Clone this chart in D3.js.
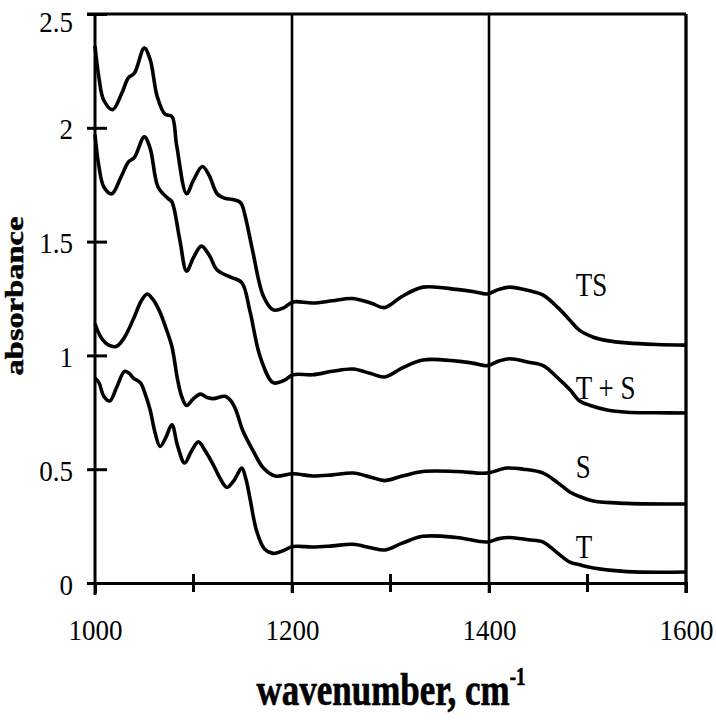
<!DOCTYPE html>
<html>
<head>
<meta charset="utf-8">
<script src="https://cdn.jsdelivr.net/npm/d3@7"></script>
<style>
  body { margin: 0; background: #fff; }
  svg text { font-family: "Liberation Serif", "Times New Roman", serif; fill: #000; }
</style>
</head>
<body>
<script>
// spectra: [wavenumber, absorbance]
var tsData = [[1000,2.36],[1004,2.22],[1009,2.12],[1018,2.08],[1027,2.15],[1034,2.22],[1040,2.24],[1050,2.35],[1056,2.30],[1063,2.14],[1071,2.06],[1078,2.05],[1083,1.92],[1093,1.71],[1100,1.77],[1109,1.83],[1116,1.79],[1124,1.71],[1132,1.69],[1140,1.685],[1148,1.67],[1152,1.62],[1160,1.46],[1171,1.26],[1181,1.20],[1192,1.21],[1201,1.235],[1221,1.23],[1241,1.24],[1261,1.25],[1280,1.23],[1294,1.21],[1312,1.26],[1333,1.30],[1367,1.29],[1385,1.28],[1398,1.27],[1410,1.29],[1421,1.30],[1440,1.285],[1455,1.265],[1470,1.21],[1482,1.155],[1492,1.11],[1506,1.08],[1520,1.065],[1540,1.055],[1570,1.048],[1600,1.045]];
var tPlusSData = [[1000,1.97],[1004,1.83],[1009,1.74],[1017,1.71],[1026,1.78],[1034,1.85],[1040,1.87],[1050,1.96],[1056,1.91],[1064,1.74],[1074,1.69],[1078,1.675],[1086,1.51],[1093,1.37],[1100,1.43],[1108,1.48],[1116,1.44],[1124,1.375],[1137,1.345],[1149,1.32],[1157,1.20],[1168,0.99],[1181,0.88],[1192,0.89],[1201,0.915],[1221,0.915],[1241,0.93],[1262,0.94],[1280,0.92],[1294,0.905],[1312,0.945],[1333,0.98],[1367,0.975],[1385,0.965],[1398,0.955],[1410,0.975],[1421,0.985],[1440,0.97],[1455,0.955],[1470,0.90],[1482,0.85],[1492,0.80],[1503,0.78],[1520,0.76],[1540,0.75],[1570,0.748],[1600,0.747]];
var sData = [[1000,1.14],[1006,1.08],[1014,1.045],[1022,1.04],[1030,1.08],[1040,1.17],[1047,1.24],[1053,1.27],[1059,1.245],[1066,1.19],[1072,1.12],[1078,1.04],[1084,0.89],[1088,0.82],[1093,0.78],[1100,0.81],[1107,0.83],[1114,0.815],[1120,0.81],[1132,0.82],[1138,0.80],[1143,0.76],[1150,0.67],[1160,0.585],[1171,0.505],[1183,0.47],[1201,0.48],[1221,0.47],[1241,0.475],[1262,0.483],[1280,0.465],[1294,0.45],[1312,0.47],[1333,0.49],[1367,0.49],[1398,0.483],[1418,0.505],[1435,0.50],[1455,0.483],[1470,0.44],[1482,0.40],[1492,0.38],[1506,0.36],[1540,0.35],[1600,0.347]];
var tData = [[1000,0.90],[1004,0.88],[1009,0.82],[1015,0.80],[1022,0.86],[1030,0.93],[1035,0.92],[1039,0.90],[1046,0.88],[1051,0.83],[1056,0.76],[1061,0.66],[1066,0.60],[1072,0.64],[1078,0.695],[1084,0.60],[1091,0.527],[1098,0.58],[1105,0.62],[1112,0.58],[1120,0.52],[1127,0.46],[1134,0.42],[1141,0.45],[1149,0.505],[1153,0.46],[1157,0.38],[1164,0.23],[1172,0.15],[1181,0.13],[1190,0.14],[1201,0.16],[1221,0.158],[1241,0.163],[1262,0.17],[1280,0.155],[1294,0.145],[1312,0.175],[1333,0.205],[1367,0.20],[1398,0.18],[1410,0.195],[1421,0.20],[1440,0.19],[1455,0.18],[1470,0.13],[1482,0.092],[1492,0.08],[1506,0.066],[1540,0.05],[1600,0.048]];

var seriesNames = ["TS", "T + S", "S", "T"];
var seriesData = [tsData, tPlusSData, sData, tData];
// label anchor: wavenumber / absorbance where each name sits
var labelPos = [[1488, 1.26], [1488, 0.81], [1488, 0.46], [1488, 0.11]];

var xTicks = [1000, 1200, 1400, 1600];
var xMinor = [1100, 1300, 1500];
var yTicks = [0, 0.5, 1, 1.5, 2, 2.5];

var width = 716;
var height = 720;
var pLeft = 95, pRight = 686, pTop = 14, pBottom = 583;

var svg = d3.select("body").append("svg")
  .attr("width", width)
  .attr("height", height);

var xScale = d3.scaleLinear().domain([1000, 1600]).range([pLeft, pRight]);
var yScale = d3.scaleLinear().domain([0, 2.5]).range([pBottom, pTop]);

// vertical grid lines at the major wavenumbers (reach below the axis as ticks)
svg.selectAll(".grid")
  .data(xTicks.slice(1))
  .enter().append("line")
  .attr("x1", function(d) { return xScale(d); })
  .attr("x2", function(d) { return xScale(d); })
  .attr("y1", pTop)
  .attr("y2", pBottom + 10)
  .attr("stroke", "#000")
  .attr("stroke-width", 2.6);

// top border
svg.append("line")
  .attr("x1", pLeft - 8).attr("x2", pRight)
  .attr("y1", pTop).attr("y2", pTop)
  .attr("stroke", "#000").attr("stroke-width", 3);

// x axis
var xAxis = svg.append("g")
  .attr("transform", "translate(0," + pBottom + ")")
  .call(d3.axisBottom(xScale).tickValues(xTicks).tickSize(10).tickFormat(d3.format("d")));
xAxis.select(".domain").attr("stroke-width", 3);
xAxis.selectAll(".tick line").attr("stroke-width", 3);
xAxis.selectAll(".tick text")
  .attr("y", null).attr("dy", null)
  .attr("font-size", 27)
  .attr("transform", "translate(0,57) scale(1,1.12)");
xAxis.selectAll(".minor")
  .data(xMinor)
  .enter().append("line")
  .attr("x1", function(d) { return xScale(d); })
  .attr("x2", function(d) { return xScale(d); })
  .attr("y1", -9).attr("y2", 9)
  .attr("stroke", "#000").attr("stroke-width", 3);

// y axis
var yAxis = svg.append("g")
  .attr("transform", "translate(" + pLeft + ",0)")
  .call(d3.axisLeft(yScale).tickValues(yTicks).tickSize(8).tickSizeOuter(0).tickFormat(d3.format("")));
yAxis.select(".domain").remove();
yAxis.append("line")
  .attr("x1", 0).attr("x2", 0)
  .attr("y1", pTop).attr("y2", pBottom + 12)
  .attr("stroke", "#000").attr("stroke-width", 3);
yAxis.selectAll(".tick line").attr("x1", 12).attr("stroke-width", 3);
yAxis.selectAll(".tick text")
  .attr("x", null).attr("dy", null)
  .attr("font-size", 27)
  .attr("text-anchor", "end")
  .attr("transform", function(d) { return "translate(-22," + (d == 2.5 ? 17 : 11) + ") scale(1,1.12)"; });

// right border
svg.append("line")
  .attr("x1", pRight).attr("x2", pRight)
  .attr("y1", pTop).attr("y2", pBottom + 10)
  .attr("stroke", "#000").attr("stroke-width", 3);

// spectra
var line = d3.line()
  .x(function(d) { return xScale(d[0]); })
  .y(function(d) { return yScale(d[1]); })
  .curve(d3.curveCatmullRom.alpha(0.5));

svg.selectAll(".spectrum")
  .data(seriesData)
  .enter().append("path")
  .attr("class", "spectrum")
  .attr("d", line)
  .attr("fill", "none")
  .attr("stroke", "#000")
  .attr("stroke-width", 3.6)
  .attr("stroke-linejoin", "round");

// curve names
svg.selectAll(".name")
  .data(seriesNames)
  .enter().append("text")
  .attr("class", "name")
  .attr("font-size", 27)
  .attr("transform", function(d, i) {
    return "translate(" + xScale(labelPos[i][0]) + "," + yScale(labelPos[i][1]) + ") scale(1,1.22)";
  })
  .text(function(d) { return d; });

// axis titles
svg.append("text")
  .attr("font-size", 25)
  .attr("font-weight", "bold")
  .attr("text-anchor", "middle")
  .attr("stroke", "#000")
  .attr("stroke-width", 0.5)
  .attr("transform", "translate(23,296) rotate(-90) scale(1.3,1)")
  .text("absorbance");

var xTitle = svg.append("text")
  .attr("font-size", 35)
  .attr("font-weight", "bold")
  .attr("text-anchor", "middle")
  .attr("stroke", "#000")
  .attr("stroke-width", 0.5)
  .attr("transform", "translate(391,705) scale(1,1.32)");
xTitle.append("tspan").text("wavenumber, cm");
xTitle.append("tspan").attr("font-size", 19).attr("dy", -15).text("-1");
</script>
</body>
</html>
